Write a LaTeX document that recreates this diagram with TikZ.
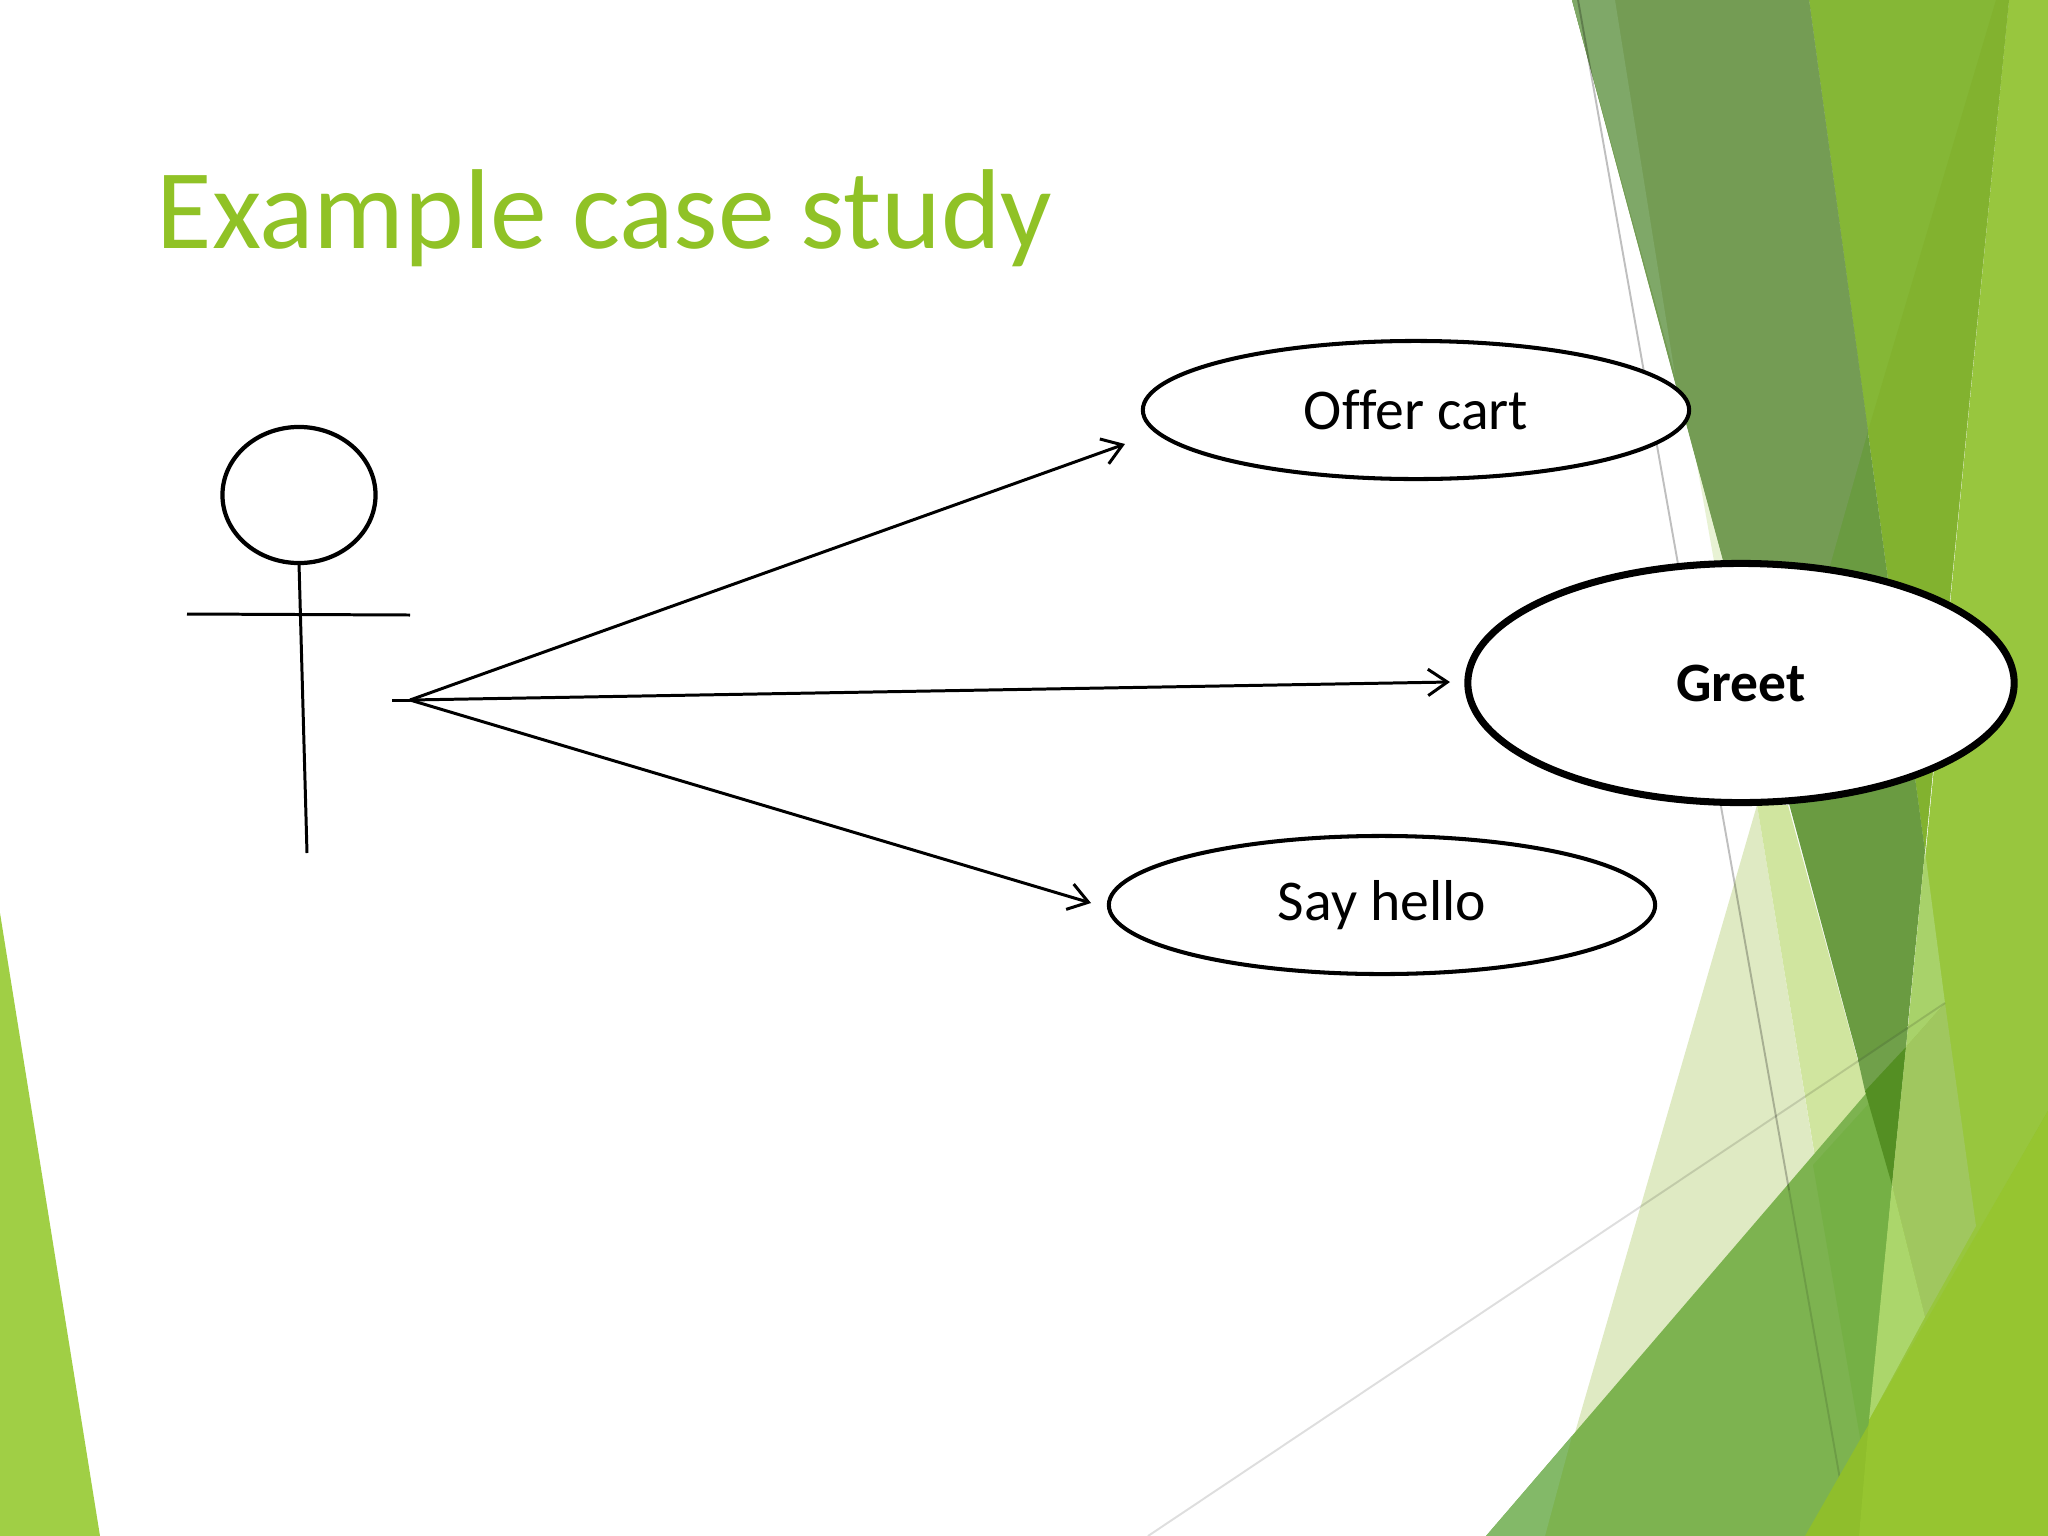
\documentclass[tikz,border=0pt]{standalone}
\usepackage{fontspec}
\setmainfont[Ligatures=NoCommon]{Carlito}
\usetikzlibrary{shapes.geometric,arrows.meta}
\definecolor{titlegreen}{HTML}{90C226}
\definecolor{bandmain}{HTML}{749C54}
\definecolor{bandstrip}{HTML}{7FA868}
\definecolor{banddark}{HTML}{6A9B41}
\definecolor{bandfold}{HTML}{70A04A}
\definecolor{banddeep}{HTML}{548F23}
\definecolor{midleft}{HTML}{85B736}
\definecolor{midright}{HTML}{82B22F}
\definecolor{lightest}{HTML}{98C63E}
\definecolor{slitpale}{HTML}{E8F2D4}
\definecolor{palegreen}{HTML}{DFEAC3}
\definecolor{midpale}{HTML}{D0E59F}
\definecolor{diagmain}{HTML}{7DB350}
\definecolor{diagleft}{HTML}{83B968}
\definecolor{diagright}{HTML}{75B045}
\definecolor{facetone}{HTML}{A8D26A}
\definecolor{facettwo}{HTML}{A0C75F}
\definecolor{facetthree}{HTML}{ABD66B}
\definecolor{cornerdark}{HTML}{8FBE2C}
\definecolor{cornerlight}{HTML}{96C530}
\definecolor{leftwedge}{HTML}{A0CF45}
\tikzset{
  usecase/.style={draw=black, fill=white, ellipse, line width=1.15pt, inner sep=0pt, outer sep=0pt,
    minimum width=5.46cm, minimum height=1.38cm, font=\fontsize{16.4}{19}\selectfont},
  stickline/.style={black, line width=0.85pt},
  callarrow/.style={black, line width=0.85pt, -{Straight Barb[length=5.5pt,width=7.5pt]}},
  faintline/.style={black, line width=0.55pt, draw opacity=0.25}
}
\begin{document}
\begin{tikzpicture}[x=0.01cm, y=-0.01cm]
        \useasboundingbox (0,0) rectangle (2048,1536);
        \fill[white] (0,0) rectangle (2048,1536);

        % left corner
        \fill[leftwedge] (0,913) -- (100,1536) -- (0,1536) -- cycle;

        % right facets
        \fill[slitpale] (1615,0) -- (1757,805) -- (1800,600) -- (1800,0) -- cycle;
        \fill[palegreen] (1757,805) -- (1545,1536) -- (1877,1536) -- cycle;
        \fill[midpale] (1757,805) -- (1813,1145) -- (1877,1536) -- (1900,1536) -- (1892,1185) -- (1788,805) -- cycle;

        \fill[lightest] (2009,0) -- (2048,0) -- (2048,1536) -- (1859,1536) -- cycle;
        \fill[midleft] (1809,0) -- (2009,0) -- (1925,851) -- cycle;
        \fill[midright] (1996,0) -- (2009,0) -- (1925,851) -- (1868,431) -- cycle;

        \fill[banddark] (1572,0) -- (1809,0) -- (1925,851) -- (1892,1185) -- cycle;
        \fill[bandmain] (1572,0) -- (1809,0) -- (1868,431) -- (1776,757) -- cycle;
        \fill[bandstrip] (1572,0) -- (1615,0) -- (1675,375) -- cycle;
        \fill[bandfold] (1858,1060) -- (1908,1027) -- (1906,1047) -- (1865,1091) -- cycle;

        \fill[diagmain] (1486,1536) -- (1906,1047) -- (1892,1185) -- (1859,1536) -- cycle;
        \fill[diagleft] (1486,1536) -- (1572,1436) -- (1545,1536) -- cycle;
        \fill[diagright] (1813,1165) -- (1872,1100) -- (1892,1185) -- (1859,1536) -- (1877,1536) -- cycle;
        \fill[banddeep] (1906,1047) -- (1865,1091) -- (1892,1185) -- cycle;

        \fill[facetone] (1925,851) -- (1945,1003) -- (1906,1047) -- cycle;
        \fill[facettwo] (1906,1047) -- (1945,1003) -- (1976,1226) -- (1925,1317) -- (1892,1185) -- cycle;
        \fill[facetthree] (1892,1185) -- (1925,1317) -- (1869,1420) -- cycle;

        \draw[faintline] (1578,0) -- (1789,1190);
        \draw[faintline, draw opacity=0.12] (1789,1190) -- (1850,1536);
        \draw[faintline, draw opacity=0.13] (1148,1536) -- (1945,1003);

        \fill[cornerdark] (1805,1536) -- (2048,1111) -- (2048,1536) -- cycle;
        \fill[cornerlight] (1859,1536) -- (1869,1420) -- (2048,1111) -- (2048,1536) -- cycle;

        \node[anchor=base west, text=titlegreen, inner sep=0pt, font=\fontsize{32.3}{38}\selectfont] (title) at (156,248) {Example case study};

        % actor
        \node[draw=black, ellipse, line width=1.2pt, inner sep=0pt, outer sep=0pt, minimum width=1.53cm, minimum height=1.36cm] (head) at (299,495) {};
        \coordinate (foot) at (307,853);
        \coordinate (armleft) at (187,614);
        \coordinate (armright) at (410,615);
        \coordinate (stub) at (392,700);
        \coordinate (hand) at (410,700);
        \draw[stickline] (head.south) -- (foot);
        \draw[stickline] (armleft) -- (armright);
        \draw[stickline] (stub) -- (hand);

        % use cases
        \node[usecase] (offer) at (1416,410) {Offer cart};
        \node[usecase, line width=2pt, minimum width=5.46cm, minimum height=2.39cm, font=\fontsize{15.8}{19}\selectfont] (greet) at (1741,683) {\textbf{Greet}};
        \node[usecase] (hello) at (1382,905) {\raisebox{-1pt}{Say hello}};

        \coordinate (offertip) at (1125,444);
        \coordinate (greettip) at (1450,682);
        \coordinate (hellotip) at (1091,903);
        \draw[callarrow] (hand) -- (offertip);
        \draw[callarrow] (hand) -- (greettip);
        \draw[callarrow] (hand) -- (hellotip);
    \end{tikzpicture}
\end{document}
